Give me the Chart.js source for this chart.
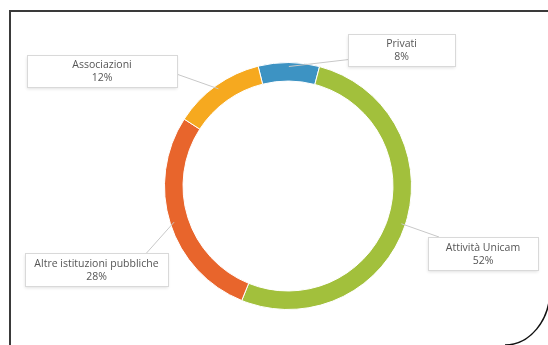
<!DOCTYPE html>
<html>
<head>
<meta charset="utf-8">
<script src="https://cdn.jsdelivr.net/npm/chart.js@4/dist/chart.umd.min.js"></script>
<style>
  body { margin: 0; background: #fff; }
  #wrap { position: relative; width: 548px; height: 345px; }
</style>
</head>
<body>
<div id="wrap"><canvas id="myChart"></canvas></div>
<script>
// values
let labels = ['Privati', 'Attività Unicam', 'Altre istituzioni pubbliche', 'Associazioni'];
let percents = [8, 52, 28, 12];
let colors = ['#3d93c3', '#a2c03c', '#e8652c', '#f6a91f'];

// callout boxes: x, y, w, h and where the leader line meets the box (fraction of w/h)
let boxes = [
    {x: 348, y: 34, w: 107, h: 32, ax: 0, ay: 0.8},
    {x: 428, y: 237, w: 110, h: 33, ax: 0.1, ay: 0},
    {x: 25, y: 253, w: 143, h: 33, ax: 0.85, ay: 0},
    {x: 27, y: 55, w: 150, h: 32, ax: 1, ay: 0.6}
];

const calloutPlugin = {
    id: 'callouts',
    afterDraw(chart) {
        const ctx = chart.ctx;
        const meta = chart.getDatasetMeta(0);
        ctx.save();
        // frame
        ctx.strokeStyle = '#3a3a3a';
        ctx.lineWidth = 2;
        ctx.beginPath();
        ctx.moveTo(548, 11);
        ctx.lineTo(10, 11);
        ctx.lineTo(10, 345);
        ctx.stroke();
        ctx.lineWidth = 1.5;
        ctx.strokeStyle = '#111';
        ctx.beginPath();
        ctx.ellipse(505, 290, 45, 55, 0, 0, Math.PI / 2);
        ctx.stroke();

        meta.data.forEach(function (arc, i) {
            const mid = (arc.startAngle + arc.endAngle) / 2;
            const px = arc.x + Math.cos(mid) * (arc.outerRadius - 4);
            const py = arc.y + Math.sin(mid) * (arc.outerRadius - 4);
            const b = boxes[i];
            // leader line
            ctx.strokeStyle = '#c8c8c8';
            ctx.lineWidth = 1;
            ctx.beginPath();
            ctx.moveTo(px, py);
            ctx.lineTo(b.x + b.w * b.ax, b.y + b.h * b.ay);
            ctx.stroke();
            // box
            ctx.fillStyle = '#ffffff';
            ctx.shadowColor = 'rgba(0,0,0,0.12)';
            ctx.shadowBlur = 3;
            ctx.shadowOffsetY = 2;
            ctx.fillRect(b.x, b.y, b.w, b.h);
            ctx.shadowColor = 'transparent';
            ctx.strokeStyle = '#d9d9d9';
            ctx.strokeRect(b.x + 0.5, b.y + 0.5, b.w, b.h);
            // text
            ctx.fillStyle = '#555555';
            ctx.font = '10.5px "Open Sans", sans-serif';
            ctx.textAlign = 'center';
            ctx.textBaseline = 'middle';
            ctx.fillText(labels[i], b.x + b.w / 2, b.y + b.h * 0.32);
            ctx.fillText(percents[i] + '%', b.x + b.w / 2, b.y + b.h * 0.72);
        });
        ctx.restore();
    }
};

const data = {
    labels: labels,
    datasets: [{
        data: percents,
        backgroundColor: colors,
        borderColor: '#ffffff',
        borderWidth: 1
    }]
};

const config = {
    type: 'doughnut',
    data: data,
    options: {
        responsive: true,
        maintainAspectRatio: false,
        animation: false,
        cutout: '85%',
        rotation: -14,
        layout: {
            padding: {left: 164, right: 136, top: 62, bottom: 35}
        },
        plugins: {
            legend: {display: false},
            tooltip: {enabled: false}
        }
    },
    plugins: [calloutPlugin]
};

const myChart = new Chart(
    document.getElementById('myChart'),
    config
);
</script>
</body>
</html>
